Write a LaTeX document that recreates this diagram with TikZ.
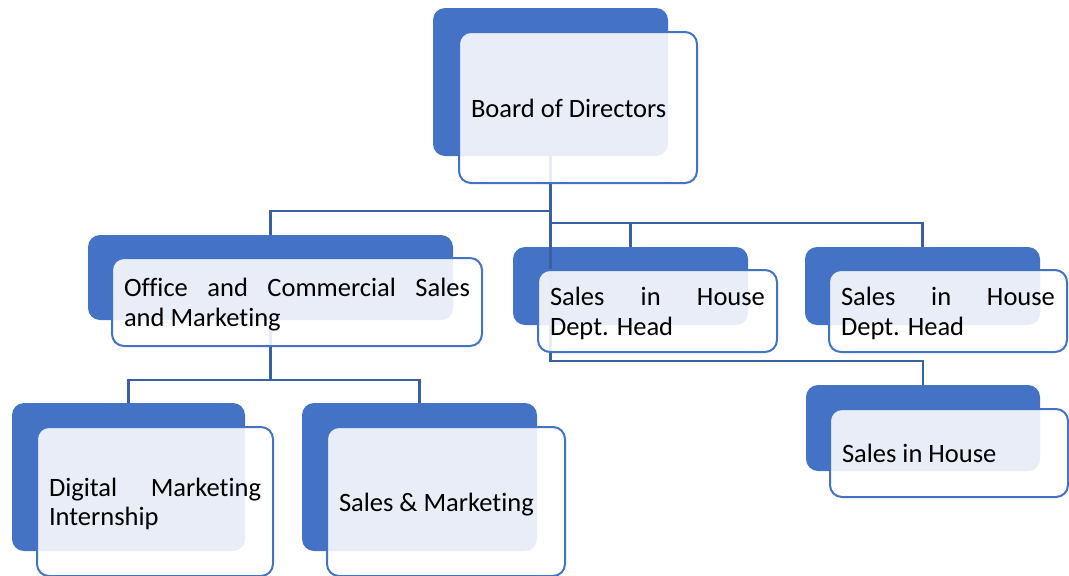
\documentclass[tikz,border=0pt]{standalone}
\usepackage{fontspec}
\setmainfont{Carlito}[Ligatures=NoCommon]
\setlength{\parindent}{0pt}
\definecolor{smblue}{RGB}{68,114,196}
\definecolor{linkblue}{RGB}{58,95,165}
\newcommand{\boxstrut}{\rule[-5pt]{0pt}{29pt}}
\tikzset{
	backbox/.style={draw=none, fill=smblue, rounded corners=12pt, inner sep=0pt},
	frontbox/.style={draw=smblue, line width=2pt, fill=white, fill opacity=0.88, text opacity=1,
		rounded corners=12pt, inner xsep=12pt, inner ysep=0pt, align=justify,
		font=\fontsize{26.5}{29.5}\selectfont,
		execute at begin node=\boxstrut, execute at end node=\boxstrut},
	link/.style={draw=linkblue, line width=2.8pt}
}
\begin{document}
\begin{tikzpicture}[x=1pt,y=-1pt]
	\useasboundingbox (0,0) rectangle (1069,576);
	
	% back blocks
	\node[backbox, minimum width=235, minimum height=148] (bodB) at (550.5,82) {};
	\node[backbox, minimum width=365, minimum height=85] (ocsB) at (270.5,277.5) {};
	\node[backbox, minimum width=235, minimum height=78] (sihB) at (630.5,286) {};
	\node[backbox, minimum width=235, minimum height=78] (sihbB) at (922.5,286) {};
	\node[backbox, minimum width=234, minimum height=86] (sinB) at (923,428) {};
	\node[backbox, minimum width=233, minimum height=148] (dmiB) at (128.5,477) {};
	\node[backbox, minimum width=235, minimum height=148] (smkB) at (419.5,477) {};
	
	% connectors
	\draw[link] (bodB.south) -- (bodB.south |- 0,211) -| (ocsB.north);
	\draw[link] (bodB.south) -- (bodB.south |- 0,223) -| (sihB.north);
	\draw[link] (bodB.south) -- (bodB.south |- 0,223) -| (sihbB.north);
	\draw[link] (bodB.south) -- (bodB.south |- 0,361) -| (sinB.north);
	\draw[link] (ocsB.south) -- (ocsB.south |- 0,380) -| (dmiB.north);
	\draw[link] (ocsB.south) -- (ocsB.south |- 0,380) -| (smkB.north);
	
	% front blocks
	\node[frontbox, text width=214, minimum height=151] (bod) at (578,107.5) {Board of Directors};
	\node[frontbox, text width=346, minimum height=88] (ocs) at (297,302) {Office and Commercial Sales\linebreak and Marketing};
	\node[frontbox, text width=215, minimum height=82] (sih) at (657.5,311) {Sales in House\linebreak Dept. Head};
	\node[frontbox, text width=214, minimum height=82] (sihb) at (948,311) {Sales in House\linebreak Dept. Head};
	\node[frontbox, text width=214, minimum height=88] (sin) at (949,453) {Sales in House};
	\node[frontbox, text width=212, minimum height=149] (dmi) at (155,501.5) {Digital Marketing\linebreak Internship};
	\node[frontbox, text width=214, minimum height=149] (smk) at (446,501.5) {Sales \& Marketing};
	
\end{tikzpicture}
\end{document}
